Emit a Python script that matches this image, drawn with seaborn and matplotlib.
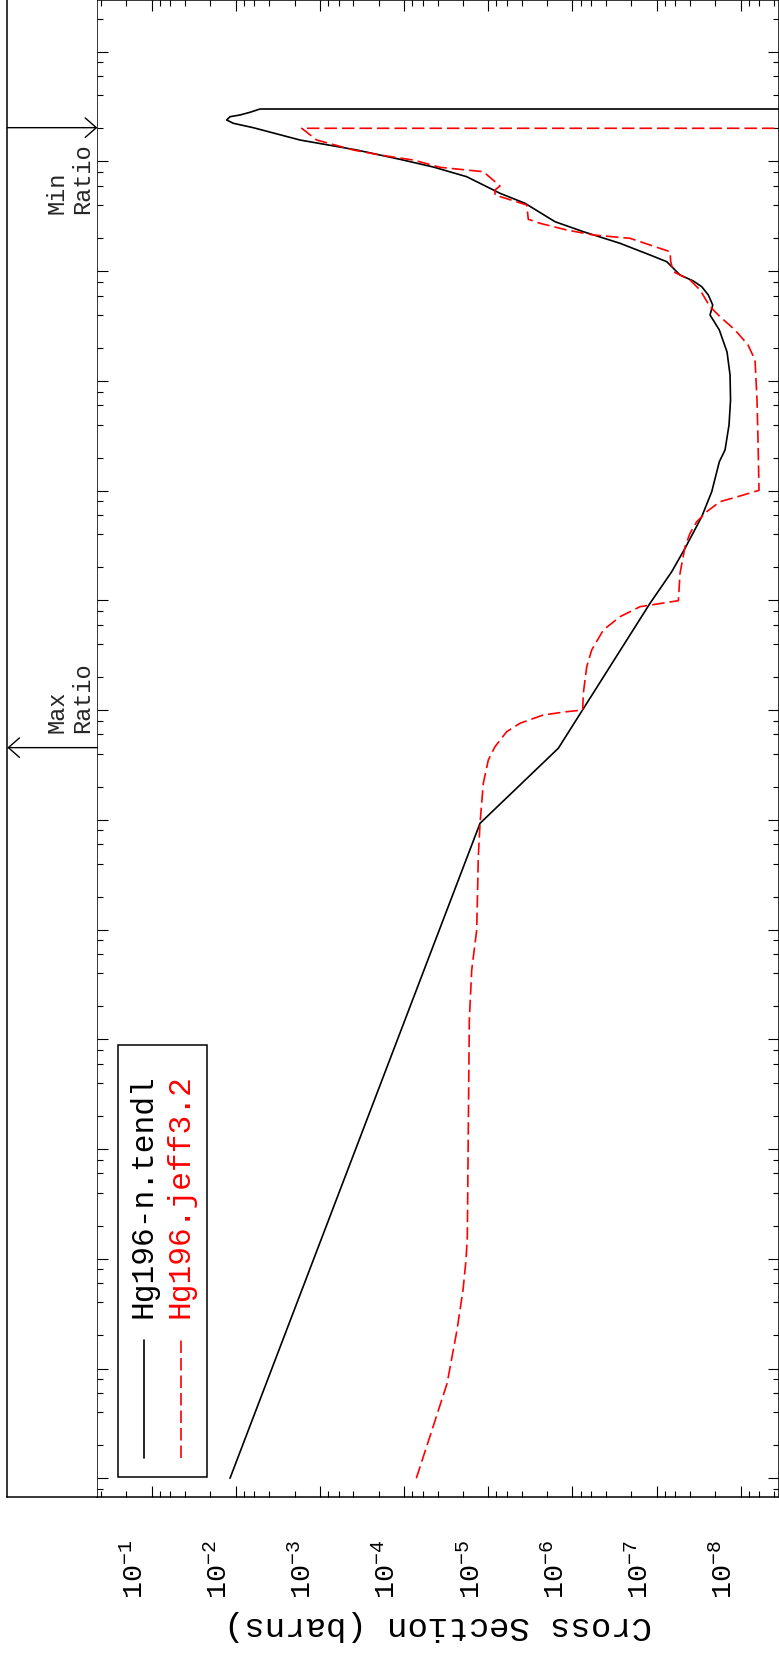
import matplotlib
matplotlib.use("Agg")
import matplotlib.pyplot as plt
import matplotlib.ticker as mticker
import matplotlib.transforms as mtransforms
from matplotlib.patches import Rectangle
import seaborn as sns

# Hg196 - TENDL (energy in eV, cross section in barns)
tendl_energy = [1.0e-5, 9.30, 44.9, 940.6, 1825, 2983, 5788, 9779, 1.835e4, 2.346e4,
                3.965e4, 6.697e4, 1.132e5, 1.834e5, 2.910e5, 3.986e5, 4.915e5, 6.065e5,
                7.217e5, 8.136e5, 9.226e5, 1.220e6, 1.404e6, 1.794e6, 2.289e6, 2.823e6,
                4.154e6, 5.123e6, 7.256e6, 8.893e6, 1.045e7, 1.271e7, 1.567e7, 2.029e7,
                2.226e7, 2.385e7, 2.556e7, 2.649e7, 2.803e7, 3.004e7, 3.004e7]
tendl_xs = [1.173e-2, 1.253e-5, 1.471e-6, 1.196e-7, 6.60e-8, 4.59e-8, 2.906e-8, 2.21e-8,
            1.795e-8, 1.536e-8, 1.377e-8, 1.321e-8, 1.339e-8, 1.454e-8, 1.795e-8, 2.315e-8,
            2.150e-8, 2.425e-8, 2.906e-8, 3.656e-8, 5.26e-8, 7.57e-8, 1.196e-7, 2.718e-7,
            7.42e-7, 1.610e-6, 3.66e-6, 7.25e-6, 1.804e-5, 4.50e-5, 1.119e-4, 3.66e-4,
            1.728e-3, 6.20e-3, 1.072e-2, 1.284e-2, 1.173e-2, 8.93e-3, 6.79e-3, 5.16e-3, 1e-12]

# Hg196 - JEFF-3.2
jeff_energy = [1.0e-5, 2.755e-5, 7.34e-5, 2.246e-4, 5.20e-4, 9.76e-4, 1.591e-3, 3.703e-2,
               0.1501, 0.4284, 0.992, 4.616, 9.30, 21.53, 35.12, 46.42, 63.6, 75.86, 90.3,
               96.7, 100.3, 142.3, 248.8, 353.1, 537.2, 710.0, 876.0, 993.4, 1766, 3085,
               4086, 5212, 6429, 7930, 8938, 1.007e4, 2.894e4, 6.699e4, 1.550e5, 2.124e5,
               2.910e5, 3.846e5, 4.743e5, 6.735e5, 8.308e5, 9.888e5, 1.220e6, 1.504e6,
               1.993e6, 2.136e6, 2.372e6, 2.730e6, 2.970e6, 4.008e6, 4.943e6, 5.491e6,
               5.970e6, 8.058e6, 8.351e6, 8.840e6, 1.030e7, 1.144e7, 1.271e7, 1.567e7,
               2.004e7, 2.004e7]
jeff_xs = [7.165e-5, 4.66e-5, 3.084e-5, 2.352e-5, 1.996e-5, 1.839e-5, 1.774e-5, 1.708e-5,
           1.680e-5, 1.573e-5, 1.372e-5, 1.313e-5, 1.253e-5, 1.145e-5, 9.99e-6, 8.32e-6,
           6.04e-6, 4.20e-6, 2.22e-6, 1.169e-6, 7.55e-7, 7.42e-7, 6.76e-7, 5.90e-7, 4.29e-7,
           2.718e-7, 1.572e-7, 5.51e-8, 5.26e-8, 4.59e-8, 4.00e-8, 3.33e-8, 2.534e-8,
           1.761e-8, 1.019e-8, 6.06e-9, 6.23e-9, 6.40e-9, 6.76e-9, 8.18e-9, 1.168e-8,
           1.761e-8, 2.315e-8, 3.044e-8, 4.00e-8, 6.32e-8, 6.79e-8, 6.92e-8, 2.068e-7,
           5.64e-7, 1.169e-6, 2.427e-6, 3.344e-6, 3.49e-6, 8.32e-6, 8.32e-6, 7.25e-6,
           1.145e-5, 1.804e-5, 3.746e-5, 7.78e-5, 1.935e-4, 4.02e-4, 1.094e-3, 1.649e-3, 1e-12]

series_names = ["Hg196-n.tendl", "Hg196.jeff3.2"]
series_colors = ["black", "red"]

xs_ticks = [1e-1, 1e-2, 1e-3, 1e-4, 1e-5, 1e-6, 1e-7, 1e-8]
xs_tick_labels = [r"$\mathregular{10^{-%d}}$" % k for k in range(1, 9)]

min_ratio_energy = 2.03e7
max_ratio_energy = 45.5

sns.set_style("white")
plt.rcParams["font.family"] = ["Liberation Mono", "DejaVu Sans"]
plt.rcParams["mathtext.fontset"] = "custom"
plt.rcParams["mathtext.rm"] = "Liberation Mono"

dash = (0, (7.5, 3))
W, H = 779, 1663
fig = plt.figure(figsize=(W / 100, H / 100), dpi=100)
ax = fig.add_axes([0.125, 0.1, 0.875, 0.9])
strip = fig.add_axes([7.3 / W, 0.1, 0.125 - 7.3 / W, 0.9])

sns.lineplot(x=tendl_xs, y=tendl_energy, ax=ax, orient="y", sort=False,
             estimator=None, color=series_colors[0], lw=1.2)
sns.lineplot(x=jeff_xs, y=jeff_energy, ax=ax, orient="y", sort=False,
             estimator=None, color=series_colors[1], lw=1.2, linestyle=dash)

ax.set_xscale("log")
ax.set_yscale("log")
ax.set_xlim(10 ** -0.3546, 10 ** -8.455)
ax.set_ylim(10 ** -5.168, 10 ** 8.471)

for axis in (ax.xaxis, ax.yaxis):
    axis.set_major_locator(mticker.LogLocator(base=10, numticks=30))
    axis.set_minor_locator(mticker.LogLocator(base=10, subs=(2, 4, 6, 8), numticks=30))
    axis.set_major_formatter(mticker.NullFormatter())
    axis.set_minor_formatter(mticker.NullFormatter())
ax.tick_params(which="both", direction="in", top=True, bottom=True, left=True,
               right=True, width=0.8, color="black")
ax.tick_params(which="major", length=8)
ax.tick_params(which="minor", length=4.5)
for sp in ax.spines.values():
    sp.set_linewidth(1.1)
    sp.set_color("black")

# rotated tick labels for the cross-section axis
lab_tr = ax.get_xaxis_transform() + mtransforms.ScaledTranslation(-0.17, 0, fig.dpi_scale_trans)
for v, lab in zip(xs_ticks, xs_tick_labels):
    ax.text(v, -0.0488, lab, transform=lab_tr, rotation=90,
            ha="center", va="center", fontsize=20.5, color="black")

ax.set_xlabel("")
ax.set_ylabel("")
ax.text(0.5, -0.0862, "Cross Section (barns)", transform=ax.transAxes, rotation=180,
        ha="center", va="center", fontsize=24.5, color="black")

# legend drawn by hand, rotated with the page
ax.add_patch(Rectangle((0.0307, 0.01336), 0.1305, 0.2884, transform=ax.transAxes,
                       fill=False, ec="black", lw=1.1, zorder=5))
leg_x = [0.0688, 0.1227]
for i in range(2):
    ls = "-" if i == 0 else dash
    ax.plot([leg_x[i], leg_x[i]], [0.02606, 0.1047], transform=ax.transAxes,
            color=series_colors[i], lw=1.2, linestyle=ls, zorder=5)
    ax.text(leg_x[i] - 0.001, 0.1193, series_names[i], transform=ax.transAxes,
            rotation=90, ha="center", va="bottom", fontsize=22.5,
            color=series_colors[i], zorder=5)

# ratio strip
strip.set_yscale("log")
strip.set_ylim(ax.get_ylim())
strip.set_xlim(0, 1)
strip.set_xticks([])
strip.yaxis.set_major_locator(mticker.NullLocator())
strip.yaxis.set_minor_locator(mticker.NullLocator())
strip.spines["right"].set_visible(False)
strip.spines["top"].set_visible(False)
for s in ("left", "bottom"):
    strip.spines[s].set_linewidth(1.1)
    strip.spines[s].set_color("black")

arrow = dict(arrowstyle="->,head_length=0.8,head_width=0.7", lw=1.0, color="black",
             shrinkA=0, shrinkB=0)
strip.annotate("", xy=(1, min_ratio_energy), xytext=(0, min_ratio_energy),
               xycoords=("axes fraction", "data"), textcoords=("axes fraction", "data"),
               arrowprops=arrow)
strip.annotate("", xy=(0, max_ratio_energy), xytext=(1, max_ratio_energy),
               xycoords=("axes fraction", "data"), textcoords=("axes fraction", "data"),
               arrowprops=arrow)
strip.annotate("Min\nRatio", xy=(0.696, min_ratio_energy), xycoords=("axes fraction", "data"),
               xytext=(0, -11), textcoords="offset points", rotation=90, ha="center",
               va="top", fontsize=17, multialignment="left", linespacing=1.15)
strip.annotate("Max\nRatio", xy=(0.696, max_ratio_energy), xycoords=("axes fraction", "data"),
               xytext=(0, 10.4), textcoords="offset points", rotation=90, ha="center",
               va="bottom", fontsize=17, multialignment="left", linespacing=1.15)

fig.savefig("out.png", dpi=100)
